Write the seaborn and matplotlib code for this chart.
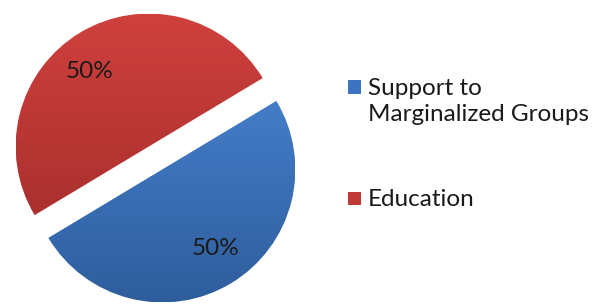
import matplotlib
matplotlib.use("Agg")
import matplotlib.pyplot as plt
import seaborn as sns
import numpy as np
from matplotlib.patches import Rectangle
from matplotlib.colors import LinearSegmentedColormap

sns.set_style("white")
plt.rcParams['font.family'] = ['Lato', 'DejaVu Sans']

# data
categories = ["Support to\nMarginalized Groups", "Education"]
shares = [50, 50]
top_colors = ["#4b87d6", "#cf403d"]
bottom_colors = ["#2e5d9c", "#9e2b29"]
key_colors = ["#3d74c0", "#c03a37"]

W, H = 607, 308
fig = plt.figure(figsize=(W / 100, H / 100), dpi=100)
ax = fig.add_axes([0, 0, 310 / W, 1])

R = 133.0  # pie radius in px
wedges, texts, autotexts = ax.pie(
    shares, startangle=211, counterclock=True, explode=[0.1, 0.1],
    colors=top_colors, autopct="%1.0f%%", pctdistance=0.7,
    textprops=dict(fontsize=17.5, color="#1a1a1a"),
)
ax.set_xlim(-155.5 / R, (310 - 155.5) / R)
ax.set_ylim(-150 / R, 158 / R)
ax.set_aspect("auto")
ax.axis("off")

# vertical gradient fill for each slice
grad = np.linspace(0, 1, 256).reshape(-1, 1)
for w, c_top, c_bot in zip(wedges, top_colors, bottom_colors):
    cmap = LinearSegmentedColormap.from_list("g", [c_top, c_bot])
    cx, cy = w.center
    im = ax.imshow(grad, cmap=cmap, aspect="auto", origin="upper",
                   extent=[cx - 1, cx + 1, cy - 1, cy + 1], zorder=w.get_zorder() + 0.1)
    im.set_clip_path(w)

# nudge percentage labels slightly around each slice
for w, t, dang in zip(wedges, autotexts, [3, 7]):
    mid = np.deg2rad((w.theta1 + w.theta2) / 2 + dang)
    cx, cy = w.center
    t.set_position((cx + 0.72 * np.cos(mid), cy + 0.72 * np.sin(mid)))
    t.set_zorder(5)

# legend drawn on the figure
legend_rows = [(categories[0], 87, key_colors[0]),
               (categories[1], 198, key_colors[1])]
for label, yc, ck in legend_rows:
    sq = 13
    fig.add_artist(Rectangle((348 / W, 1 - (yc + sq / 2) / H), sq / W, sq / H,
                             transform=fig.transFigure, facecolor=ck, edgecolor="none"))
    fig.text(368 / W, 1 - (yc - 9) / H, label, fontsize=17.5, color="#1a1a1a",
             va="top", ha="left", linespacing=1.3)

fig.savefig("out.png", dpi=100)
